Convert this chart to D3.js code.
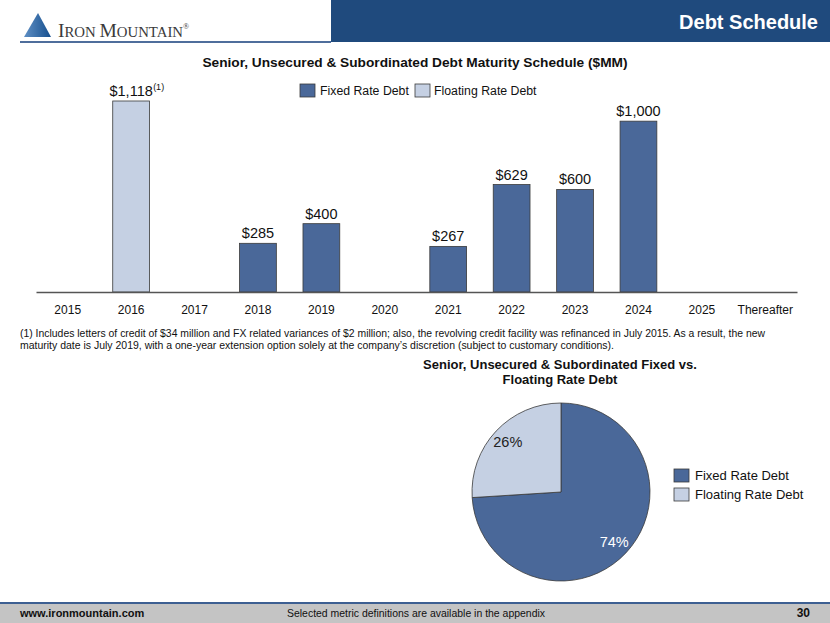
<!DOCTYPE html>
<html>
<head>
<meta charset="utf-8">
<script src="https://cdn.jsdelivr.net/npm/d3@7"></script>
<style>
  body { margin: 0; background: #fff; }
  svg { display: block; font-family: "Liberation Sans", Arial, sans-serif; }
</style>
</head>
<body>
<svg id="chart" width="830" height="623"></svg>
<script>
const years = ["2015", "2016", "2017", "2018", "2019", "2020", "2021", "2022", "2023", "2024", "2025", "Thereafter"];
const fixedDebt = [0, 0, 0, 285, 400, 0, 267, 629, 600, 1000, 0, 0];
const floatingDebt = [0, 1118, 0, 0, 0, 0, 0, 0, 0, 0, 0, 0];
const seriesNames = ["Fixed Rate Debt", "Floating Rate Debt"];
const pieShares = [74, 26];

const fixedColor = "#4a6899";
const floatColor = "#c5d0e3";
const edge = "#3a3a3a";

const svg = d3.select("#chart");

// header
svg.append("rect").attr("x", 331).attr("y", 0).attr("width", 499).attr("height", 42).attr("fill", "#1f4a7d");
svg.append("line").attr("x1", 20).attr("x2", 331).attr("y1", 42).attr("y2", 42)
  .attr("stroke", "#4f6e9c").attr("stroke-width", 2);
svg.append("text").attr("x", 818).attr("y", 29).attr("text-anchor", "end")
  .attr("fill", "#fff").attr("font-weight", "bold").attr("font-size", 20).text("Debt Schedule");

const grad = svg.append("defs").append("linearGradient").attr("id", "tri")
  .attr("x1", "0%").attr("x2", "100%");
grad.append("stop").attr("offset", "0%").attr("stop-color", "#5f8fc4");
grad.append("stop").attr("offset", "100%").attr("stop-color", "#164f8e");
svg.append("path").attr("d", "M24,37 L38,13 L51,37 Z").attr("fill", "url(#tri)");
const logo = svg.append("text").attr("x", 58).attr("y", 37)
  .attr("font-family", "Liberation Serif, Times New Roman, serif").attr("fill", "#3a3a3a");
logo.append("tspan").attr("font-size", 19.5).text("I");
logo.append("tspan").attr("font-size", 14.8).text("RON ");
logo.append("tspan").attr("font-size", 19.5).text("M");
logo.append("tspan").attr("font-size", 14.8).text("OUNTAIN");
logo.append("tspan").attr("font-size", 8).attr("dy", -8).text("®");

// bar chart
svg.append("text").attr("x", 415).attr("y", 67).attr("text-anchor", "middle")
  .attr("font-weight", "bold").attr("font-size", 13.7).attr("fill", "#111")
  .text("Senior, Unsecured & Subordinated Debt Maturity Schedule ($MM)");

const x = d3.scaleBand().domain(years).range([36, 797]).paddingInner(0.42).paddingOuter(0.21);
const y = d3.scaleLinear().domain([0, d3.max(floatingDebt)]).range([292, 101]);

const bars = years.map((yr, i) => ({
  year: yr,
  value: fixedDebt[i] || floatingDebt[i],
  floating: floatingDebt[i] > 0
})).filter(d => d.value > 0);

svg.append("g").selectAll("rect").data(bars).join("rect")
  .attr("x", d => x(d.year))
  .attr("y", d => y(d.value))
  .attr("width", x.bandwidth())
  .attr("height", d => y(0) - y(d.value))
  .attr("fill", d => d.floating ? floatColor : fixedColor)
  .attr("stroke", edge).attr("stroke-width", 0.8);

svg.append("g").selectAll("text").data(bars).join("text")
  .attr("x", d => x(d.year) + x.bandwidth() / 2)
  .attr("y", d => y(d.value) - 5)
  .attr("text-anchor", "middle").attr("font-size", 14.5).attr("fill", "#111")
  .text(d => "$" + d3.format(",")(d.value));

const foot = bars.find(d => d.floating);
svg.append("text")
  .attr("x", x(foot.year) + x.bandwidth() / 2 + 22)
  .attr("y", y(foot.value) - 11)
  .attr("font-size", 9).attr("fill", "#111").text("(1)");

const xAxis = svg.append("g").attr("transform", "translate(0,292)")
  .call(d3.axisBottom(x).tickSize(0).tickPadding(13));
xAxis.select(".domain").attr("stroke", "#555").attr("stroke-width", 1.5);
xAxis.selectAll("text").attr("font-size", 12).attr("fill", "#111")
  .attr("font-family", "Liberation Sans, Arial, sans-serif");

const legend = svg.append("g");
[[300, 320], [415, 434]].forEach(([sx, tx], i) => {
  legend.append("rect").attr("x", sx).attr("y", 84).attr("width", 15).attr("height", 13)
    .attr("fill", i ? floatColor : fixedColor).attr("stroke", edge).attr("stroke-width", 0.8);
  legend.append("text").attr("x", tx).attr("y", 95).attr("font-size", 12.3).attr("fill", "#111")
    .text(seriesNames[i]);
});

svg.append("text").attr("x", 20).attr("y", 337).attr("font-size", 11).attr("fill", "#111")
  .attr("textLength", 745).attr("lengthAdjust", "spacingAndGlyphs")
  .text("(1) Includes letters of credit of $34 million and FX related variances of $2 million; also, the revolving credit facility was refinanced in July 2015. As a result, the new");
svg.append("text").attr("x", 20).attr("y", 349).attr("font-size", 11).attr("fill", "#111")
  .attr("textLength", 594).attr("lengthAdjust", "spacingAndGlyphs")
  .text("maturity date is July 2019,  with a one-year extension option solely at the company\u2019s discretion (subject to customary conditions).");

// pie chart
svg.append("text").attr("x", 560).attr("y", 369).attr("text-anchor", "middle")
  .attr("font-weight", "bold").attr("font-size", 13).attr("fill", "#111")
  .text("Senior, Unsecured & Subordinated Fixed vs.");
svg.append("text").attr("x", 560).attr("y", 384).attr("text-anchor", "middle")
  .attr("font-weight", "bold").attr("font-size", 13).attr("fill", "#111")
  .text("Floating Rate Debt");

const pie = d3.pie().sort(null)(pieShares);
const arc = d3.arc().innerRadius(0).outerRadius(89);
const labelArc = d3.arc().innerRadius(57).outerRadius(89);
const pg = svg.append("g").attr("transform", "translate(561,492)");
pg.selectAll("path").data(pie).join("path")
  .attr("d", arc)
  .attr("fill", (d, i) => i ? floatColor : fixedColor)
  .attr("stroke", edge).attr("stroke-width", 0.8);
pg.selectAll("text").data(pie).join("text")
  .attr("transform", d => `translate(${labelArc.centroid(d)})`)
  .attr("text-anchor", "middle").attr("dy", "0.35em")
  .attr("font-size", 14.5).attr("fill", (d, i) => i ? "#222" : "#fff")
  .text(d => d.data + "%");

const pieLegend = svg.append("g");
seriesNames.forEach((name, i) => {
  pieLegend.append("rect").attr("x", 674).attr("y", 469 + i * 19).attr("width", 15).attr("height", 13)
    .attr("fill", i ? floatColor : fixedColor).attr("stroke", edge).attr("stroke-width", 0.8);
  pieLegend.append("text").attr("x", 695).attr("y", 480 + i * 19).attr("font-size", 13).attr("fill", "#111")
    .text(name);
});

// footer
svg.append("rect").attr("x", 0).attr("y", 604).attr("width", 830).attr("height", 19).attr("fill", "#c4c4c4");
svg.append("line").attr("x1", 0).attr("x2", 830).attr("y1", 603).attr("y2", 603)
  .attr("stroke", "#3d5f92").attr("stroke-width", 2);
svg.append("text").attr("x", 20).attr("y", 617).attr("font-size", 11).attr("font-weight", "bold")
  .attr("fill", "#111").text("www.ironmountain.com");
svg.append("text").attr("x", 287).attr("y", 617).attr("font-size", 11).attr("fill", "#111")
  .attr("textLength", 258).attr("lengthAdjust", "spacingAndGlyphs")
  .text("Selected metric definitions are available in the appendix");
svg.append("text").attr("x", 810).attr("y", 617).attr("text-anchor", "end").attr("font-size", 12)
  .attr("font-weight", "bold").attr("fill", "#111").text("30");
</script>
</body>
</html>
